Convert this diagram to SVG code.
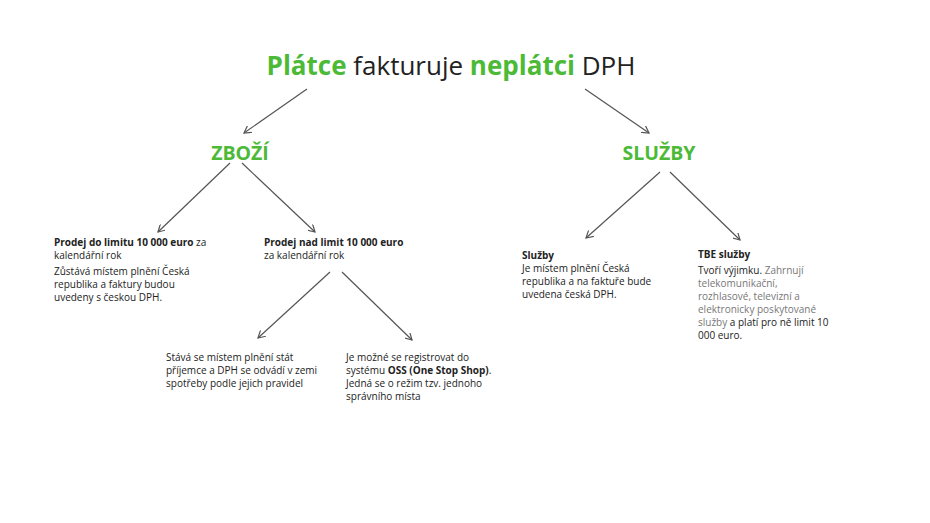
<svg xmlns="http://www.w3.org/2000/svg" width="930" height="523" viewBox="0 0 930 523">
<style>
text{font-family:"Open Sans","Noto Sans",sans-serif;fill:#222}
.t{font-size:26px}
.g{fill:#4cba36;font-weight:bold}
.h{font-size:19.5px;font-weight:bold;fill:#4cba36}
.s{font-size:10px}
.b{font-weight:bold}
.l{fill:#777}
.c line{stroke:#555;stroke-width:1.2;marker-end:url(#a)}
</style>
<defs><marker id="a" markerWidth="8" markerHeight="8" refX="7" refY="4" orient="auto" markerUnits="userSpaceOnUse"><path d="M0,0 L7,4 L0,8" fill="none" stroke="#555" stroke-width="1.2"/></marker></defs>
<rect width="930" height="523" fill="#fff"/>
<g class="c">
<line x1="307" y1="89" x2="244" y2="133"/>
<line x1="585" y1="89" x2="649" y2="133"/>
<line x1="230" y1="163" x2="158" y2="232"/>
<line x1="242" y1="163" x2="315" y2="232"/>
<line x1="660" y1="172" x2="586" y2="238"/>
<line x1="670" y1="172" x2="740" y2="240"/>
<line x1="330" y1="272" x2="258" y2="338"/>
<line x1="342" y1="272" x2="412" y2="340"/>
</g>
<g id="title"><text class="t" x="451" y="75" text-anchor="middle"><tspan class="g">Plátce</tspan> fakturuje <tspan class="g">neplátci</tspan> DPH</text></g>
<g id="zbozi"><text class="h" x="240" y="160" text-anchor="middle">ZBOŽÍ</text></g>
<g id="sluzby"><text class="h" x="659" y="160" text-anchor="middle">SLUŽBY</text></g>
<g id="n1"><text x="54" y="246" class="s"><tspan class="b">Prodej do limitu 10 000 euro</tspan> za</text>
<text x="54" y="259" class="s">kalendářní rok</text>
<text x="54" y="275" class="s">Zůstává místem plnění Česká</text>
<text x="54" y="288" class="s">republika a faktury budou</text>
<text x="54" y="301" class="s">uvedeny s českou DPH.</text></g>
<g id="n2"><text x="264" y="246" class="s b">Prodej nad limit 10 000 euro</text>
<text x="264" y="259" class="s">za kalendářní rok</text></g>
<g id="n3"><text x="166" y="361" class="s">Stává se místem plnění stát</text>
<text x="166" y="374" class="s">příjemce a DPH se odvádí v zemi</text>
<text x="166" y="387" class="s">spotřeby podle jejich pravidel</text></g>
<g id="n4"><text x="346" y="361" class="s">Je možné se registrovat do</text>
<text x="346" y="374" class="s">systému <tspan class="b">OSS (One Stop Shop)</tspan>.</text>
<text x="346" y="387" class="s">Jedná se o režim tzv. jednoho</text>
<text x="346" y="400" class="s">správního místa</text></g>
<g id="n5"><text x="522" y="259" class="s b">Služby</text>
<text x="522" y="272" class="s">Je místem plnění Česká</text>
<text x="522" y="285" class="s">republika a na faktuře bude</text>
<text x="522" y="298" class="s">uvedena česká DPH.</text></g>
<g id="n6"><text x="698" y="258" class="s b">TBE služby</text>
<text x="698" y="274" class="s">Tvoří výjimku. <tspan class="l">Zahrnují</tspan></text>
<text x="698" y="287" class="s l">telekomunikační,</text>
<text x="698" y="300" class="s l">rozhlasové, televizní a</text>
<text x="698" y="313" class="s l">elektronicky poskytované</text>
<text x="698" y="326" class="s"><tspan class="l">služby</tspan> a platí pro ně limit 10</text>
<text x="698" y="339" class="s">000 euro.</text></g>
</svg>
